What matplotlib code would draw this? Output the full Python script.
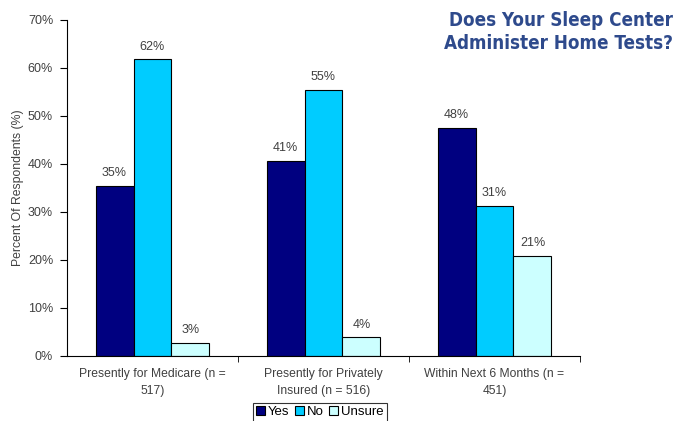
import matplotlib.pyplot as plt
import numpy as np

categories = ["Presently for Medicare (n =\n517)",
              "Presently for Privately\nInsured (n = 516)",
              "Within Next 6 Months (n =\n451)"]
series_names = ["Yes", "No", "Unsure"]
yes_vals = [35.4, 40.6, 47.6]
no_vals = [61.8, 55.4, 31.3]
unsure_vals = [2.7, 3.9, 20.9]
colors = ["#000080", "#00CCFF", "#CCFFFF"]

plt.rcParams["font.family"] = ["Liberation Sans", "DejaVu Sans"]
text_col = "#404040"

fig = plt.figure(figsize=(6.76, 4.21), dpi=100)
ax = fig.add_axes([0.0991, 0.1544, 0.7589, 0.7981])

x = np.arange(len(categories))
w = 0.222
for i, (vals, name, c) in enumerate(zip([yes_vals, no_vals, unsure_vals], series_names, colors)):
    bars = ax.bar(x + (i - 1) * w, vals, w, color=c, edgecolor="black", linewidth=0.8, label=name)
    for b, v in zip(bars, vals):
        ax.text(b.get_x() + b.get_width() / 2, v + 1.4, f"{round(v)}%",
                ha="center", va="bottom", fontsize=9, color=text_col)

ax.set_xlim(-0.5, 2.5)
ax.set_ylim(0, 70)
ax.set_yticks(range(0, 71, 10))
ax.set_yticklabels([f"{t}%" for t in range(0, 71, 10)], fontsize=9, color=text_col)
ax.set_xticks(x)
ax.set_xticklabels(categories, fontsize=8.7, color=text_col, linespacing=1.45)
ax.tick_params(axis="x", length=0, pad=9)
ax.set_xticks([0.5, 1.5, 2.5], minor=True)
ax.tick_params(axis="x", which="minor", length=4, direction="out")
ax.tick_params(axis="y", length=5, direction="out", pad=5)
ax.spines["top"].set_visible(False)
ax.spines["right"].set_visible(False)
ax.set_ylabel("Percent Of Respondents (%)", fontsize=8.8, color=text_col, labelpad=3)

fig.text(0.996, 0.975, "Does Your Sleep Center\nAdminister Home Tests?",
         ha="right", va="top", fontsize=13.5, fontweight="bold", color="#2E4A8C",
         family="DejaVu Sans", fontstretch="condensed", linespacing=1.3)

leg = fig.legend(loc="upper center", bbox_to_anchor=(0.473, 0.043), ncol=3, fontsize=9.5,
                 frameon=True, fancybox=False, edgecolor="black",
                 handlelength=0.7, handleheight=0.7, handletextpad=0.2,
                 columnspacing=0.4, borderpad=0.25, borderaxespad=0)
leg.get_frame().set_linewidth(0.8)

fig.savefig("out.png", dpi=100)
